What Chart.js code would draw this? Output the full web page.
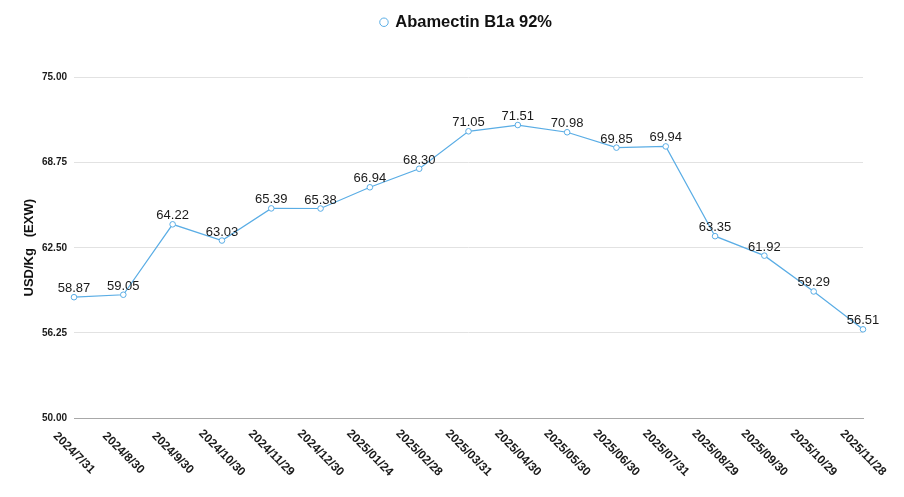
<!DOCTYPE html>
<html>
<head>
<meta charset="utf-8">
<style>
  html, body { margin: 0; padding: 0; background: #ffffff; }
  #wrap { width: 904px; height: 497px; position: relative; }
</style>
<script src="https://cdn.jsdelivr.net/npm/chart.js@4.4.1/dist/chart.umd.min.js"></script>
</head>
<body>
<div id="wrap"><canvas id="c"></canvas></div>
<script>
const categories = ["2024/7/31","2024/8/30","2024/9/30","2024/10/30","2024/11/29","2024/12/30","2025/01/24","2025/02/28","2025/03/31","2025/04/30","2025/05/30","2025/06/30","2025/07/31","2025/08/29","2025/09/30","2025/10/29","2025/11/28"];
const prices = [58.87, 59.05, 64.22, 63.03, 65.39, 65.38, 66.94, 68.30, 71.05, 71.51, 70.98, 69.85, 69.94, 63.35, 61.92, 59.29, 56.51];
const seriesName = "Abamectin B1a 92%";
const yTitle = "USD/Kg   (EXW)";
const yMin = 50, yMax = 75, yStep = 6.25;

const FONT = "'Liberation Sans', Arial, Helvetica, sans-serif";
const LINE = "#5aade5";

const legendSpacing = {
  id: 'legendSpacing',
  beforeInit(chart) {
    const fit = chart.legend.fit;
    chart.legend.fit = function () {
      fit.bind(chart.legend)();
      this.height += 37;
    };
  },
  afterLayout(chart) {
    chart.legend.left = chart.chartArea.left - 2;
    chart.legend.right = chart.chartArea.right - 2;
  }
};

const pointLabels = {
  id: 'pointLabels',
  afterDatasetsDraw(chart) {
    const ctx = chart.ctx;
    const meta = chart.getDatasetMeta(0);
    ctx.save();
    ctx.font = "13px " + FONT;
    ctx.fillStyle = "#1a1a1a";
    ctx.textAlign = "center";
    ctx.textBaseline = "alphabetic";
    meta.data.forEach((pt, i) => {
      ctx.fillText(chart.data.datasets[0].data[i].toFixed(2), pt.x, pt.y - 5);
    });
    ctx.restore();
  }
};

const xLabels = {
  id: 'xLabels',
  afterDraw(chart) {
    const ctx = chart.ctx;
    const xs = chart.scales.x;
    ctx.save();
    ctx.font = "bold 12px " + FONT;
    ctx.fillStyle = "#1a1a1a";
    ctx.textAlign = "center";
    ctx.textBaseline = "middle";
    chart.data.labels.forEach((lab, i) => {
      const x = xs.getPixelForTick(i);
      ctx.save();
      ctx.translate(x, xs.top + 35);
      ctx.rotate(Math.PI / 4);
      ctx.fillText(lab, 0, 0);
      ctx.restore();
    });
    ctx.restore();
  }
};

new Chart(document.getElementById('c'), {
  type: 'line',
  data: {
    labels: categories,
    datasets: [{
      label: seriesName,
      data: prices,
      borderColor: LINE,
      backgroundColor: '#ffffff',
      borderWidth: 1.2,
      pointRadius: 2.8,
      pointBorderWidth: 1,
      pointBorderColor: LINE,
      pointBackgroundColor: '#ffffff',
      tension: 0,
      fill: false
    }]
  },
  options: {
    responsive: true,
    maintainAspectRatio: false,
    animation: false,
    layout: { padding: { top: 2, right: 41, left: 0, bottom: 0 } },
    plugins: {
      legend: {
        display: true,
        position: 'top',
        labels: {
          usePointStyle: true,
          pointStyle: 'circle',
          boxWidth: 6,
          boxHeight: 6,
          padding: 12,
          color: '#111',
          font: { family: FONT, size: 16.5, weight: 'bold' }
        }
      },
      tooltip: { enabled: false }
    },
    scales: {
      x: {
        offset: false,
        grid: { display: false },
        border: { display: true, color: '#a8a8a8', width: 1 },
        ticks: { display: false },
        afterFit(scale) { scale.height = 79; }
      },
      y: {
        min: yMin,
        max: yMax,
        grid: { color: '#e2e2e2', lineWidth: 1, drawTicks: false },
        border: { display: false },
        ticks: {
          stepSize: yStep,
          padding: 7,
          color: '#1a1a1a',
          font: { family: FONT, size: 10, weight: 'bold' },
          callback: (v) => Number(v).toFixed(2)
        },
        title: {
          display: true,
          text: yTitle,
          color: '#111',
          font: { family: FONT, size: 13, weight: 'bold' },
          padding: { top: 22, bottom: 0 }
        },
        afterFit(scale) { scale.width = 74; }
      }
    }
  },
  plugins: [legendSpacing, pointLabels, xLabels]
});
</script>
</body>
</html>
